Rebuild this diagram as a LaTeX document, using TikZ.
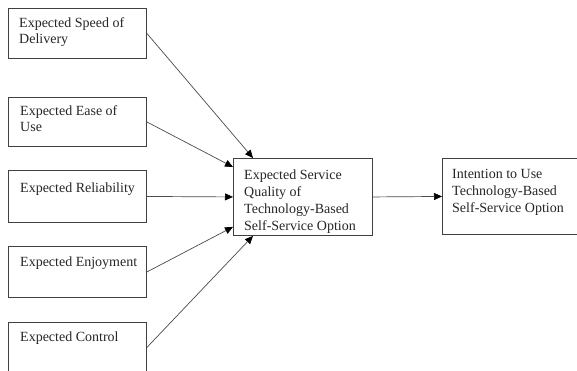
\documentclass[tikz,border=0pt]{standalone}
\usepackage{fontspec}
\setmainfont{Liberation Serif}
\usetikzlibrary{arrows.meta}
\begin{document}
\begin{tikzpicture}[x=1pt,y=-1pt,
  box/.style={draw=black!75, line width=0.9pt, rectangle, inner sep=0pt, anchor=north west},
  txt/.style={anchor=north west, inner sep=0pt, align=left, text=black!85, font=\fontsize{14}{16}\selectfont},
  txtc/.style={txt, font=\fontsize{14}{17}\selectfont},
  conn/.style={draw=black!70, line width=0.7pt, -{Triangle[length=8pt,width=7pt,color=black,fill=black]}}]
\useasboundingbox (0,0) rectangle (577,371);
\clip (0,0) rectangle (577,371);
\fill[white] (0,0) rectangle (577,371);
% left column boxes
\node[box, minimum width=138pt, minimum height=50pt] (b1) at (8,8) {};
\node[box, minimum width=138pt, minimum height=49pt] (b2) at (8,97) {};
\node[box, minimum width=138pt, minimum height=52pt] (b3) at (8,170) {};
\node[box, minimum width=138pt, minimum height=51pt] (b4) at (8,246) {};
\node[box, minimum width=138pt, minimum height=50pt] (b5) at (8,322) {};
% texts
\node[txt] (t1) at (19,17.5) {Expected Speed of\\Delivery};
\node[txt] (t2) at (20,105.5) {Expected Ease of\\Use};
\node[txt] (t3) at (20,182.5) {Expected Reliability};
\node[txt] (t4) at (20,256.5) {Expected Enjoyment};
\node[txt] (t5) at (20,331.5) {Expected Control};
% central and right boxes
\node[box, minimum width=139pt, minimum height=77pt] (c) at (233,158) {};
\node[txtc] (tc) at (244,169.5) {Expected Service\\Quality of\\Technology-Based\\Self-Service Option};
\node[box, minimum width=160pt, minimum height=76pt] (r) at (442,158) {};
\node[txtc] (tr) at (452,169.5) {Intention to Use\\Technology-Based\\Self-Service Option};
% connectors
\coordinate (e1) at ([xshift=20pt]c.north west);
\coordinate (e2) at ([yshift=-9pt]c.north west);
\coordinate (e4) at ([yshift=9pt]c.south west);
\coordinate (e5) at ([xshift=20pt]c.south west);
\draw[conn] (b1.east) -- (e1);
\draw[conn] (b2.east) -- (e2);
\draw[conn] (b3.east) -- (c.west);
\draw[conn] (b4.east) -- (e4);
\draw[conn] (b5.east) -- (e5);
\draw[conn] (c.east) -- (r.west);
\end{tikzpicture}
\end{document}
